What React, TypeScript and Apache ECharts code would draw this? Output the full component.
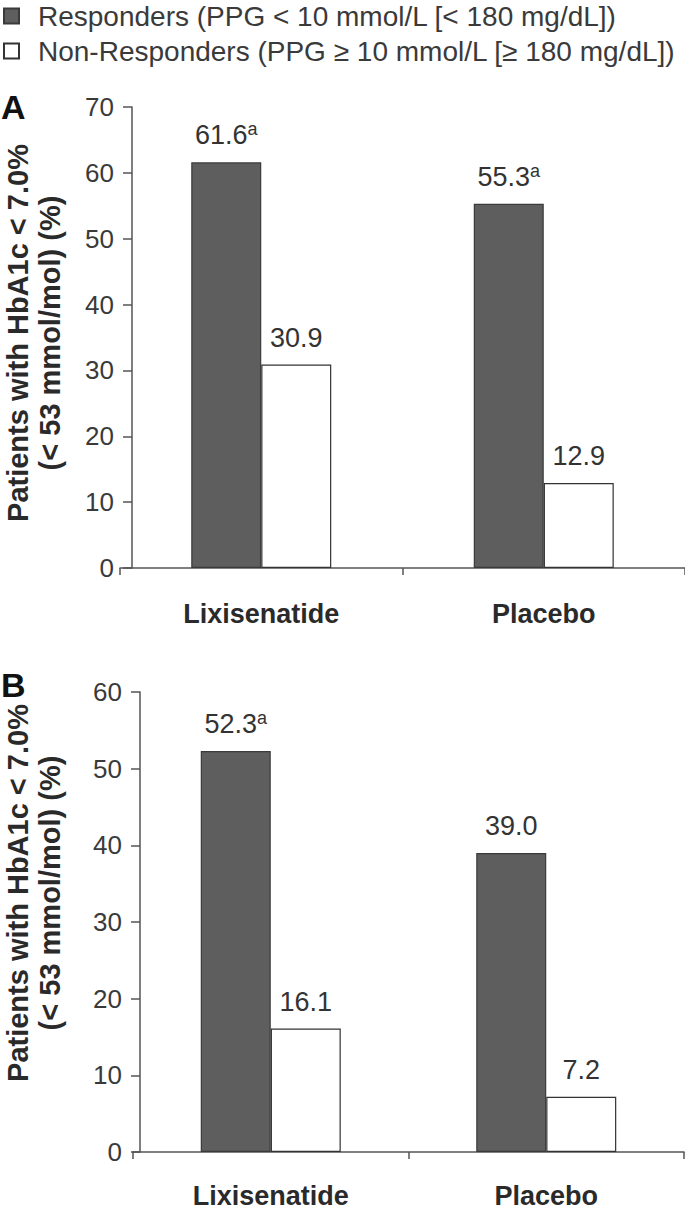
import React, { useEffect, useRef } from "react";
import * as echarts from "echarts";

const categories = ["Lixisenatide", "Placebo"];
const seriesNames = [
  "Responders (PPG < 10 mmol/L [< 180 mg/dL])",
  "Non-Responders (PPG ≥ 10 mmol/L [≥ 180 mg/dL])",
];
const respondersA = [61.6, 55.3];
const nonRespondersA = [30.9, 12.9];
const respondersSupA = ["a", "a"];
const respondersB = [52.3, 39.0];
const nonRespondersB = [16.1, 7.2];
const respondersSupB = ["a", ""];
const yMaxA = 70;
const yMaxB = 60;
const yInterval = 10;
const yNameLine1 = "Patients with HbA1c < 7.0%";
const yNameLine2 = "(< 53 mmol/mol) (%)";

const FONT = "'Liberation Sans', Arial, Helvetica, sans-serif";

export default function App() {
  const ref = useRef<HTMLDivElement>(null);
  useEffect(() => {
    if (!ref.current) return;
    const chart = echarts.init(ref.current, undefined, { renderer: "svg" });

    const darkStyle = { color: "#5e5e5e", borderColor: "#3a3a3a", borderWidth: 1.2 };
    const whiteStyle = { color: "#ffffff", borderColor: "#333333", borderWidth: 1.2 };

    const valueLabel = (sups: string[] | null) => ({
      show: true,
      position: "top",
      distance: 12,
      formatter: (p: any) => {
        const v = Number(p.value).toFixed(1);
        const s = sups ? sups[p.dataIndex] : "";
        return s ? `{v|${v}}{s|${s}}` : `{v|${v}}`;
      },
      rich: {
        v: { fontSize: 27, fontFamily: FONT, color: "#333", lineHeight: 30 },
        s: { fontSize: 18, fontFamily: FONT, color: "#333", lineHeight: 30, verticalAlign: "top" },
      },
    });

    const xAxisBase = (gridIndex: number, margin: number) => ({
      type: "category",
      gridIndex,
      data: categories,
      axisLine: { show: true, lineStyle: { color: "#555", width: 1.5 } },
      axisTick: { show: true, length: 7, lineStyle: { color: "#555", width: 1.5 } },
      axisLabel: { fontSize: 27, fontWeight: "bold", color: "#2a2a2a", fontFamily: FONT, margin },
    });
    const yAxisBase = (gridIndex: number, max: number, offset: number) => ({
      type: "value",
      gridIndex,
      min: 0,
      max,
      interval: yInterval,
      offset,
      splitLine: { show: false },
      axisLine: { show: true, lineStyle: { color: "#555", width: 1.5 } },
      axisTick: { show: true, length: 9, lineStyle: { color: "#555", width: 1.5 } },
      axisLabel: { fontSize: 26, color: "#3a3a3a", fontFamily: FONT, margin: 18 },
    });

    const barCommon = { barWidth: 70, barGap: "0%" };

    const yNameText = (x: number, y: number, text: string) => ({
      type: "text",
      x,
      y,
      rotation: Math.PI / 2,
      style: {
        text,
        fontSize: 29,
        fontWeight: "bold",
        fontFamily: FONT,
        fill: "#2a2a2a",
        textAlign: "center",
        textVerticalAlign: "middle",
      },
    });

    chart.setOption({
      animation: false,
      legend: {
        orient: "vertical",
        left: -2,
        top: -3,
        icon: "rect",
        itemWidth: 15,
        itemHeight: 15,
        itemGap: 7,
        data: seriesNames,
        textStyle: { fontSize: 28, color: "#3a3a3a", fontFamily: FONT, padding: [0, 0, 0, 14] },
      },
      grid: [
        { left: 120, top: 107, width: 569, height: 461 },
        { left: 133, top: 692, width: 551, height: 463 },
      ],
      xAxis: [xAxisBase(0, 32), xAxisBase(1, 30)],
      yAxis: [yAxisBase(0, yMaxA, -12), yAxisBase(1, yMaxB, -7)],
      series: [
        { type: "bar", name: seriesNames[0], xAxisIndex: 0, yAxisIndex: 0, data: respondersA, itemStyle: darkStyle, label: valueLabel(respondersSupA), ...barCommon },
        { type: "bar", name: seriesNames[1], xAxisIndex: 0, yAxisIndex: 0, data: nonRespondersA, itemStyle: whiteStyle, label: valueLabel(null), ...barCommon },
        { type: "bar", name: seriesNames[0], xAxisIndex: 1, yAxisIndex: 1, data: respondersB, itemStyle: darkStyle, label: valueLabel(respondersSupB), ...barCommon },
        { type: "bar", name: seriesNames[1], xAxisIndex: 1, yAxisIndex: 1, data: nonRespondersB, itemStyle: whiteStyle, label: valueLabel(null), ...barCommon },
      ],
      graphic: [
        { type: "text", left: 1, top: 90, style: { text: "A", fontSize: 34, fontWeight: "bold", fontFamily: FONT, fill: "#111" } },
        { type: "text", left: 1, top: 668, style: { text: "B", fontSize: 34, fontWeight: "bold", fontFamily: FONT, fill: "#111" } },
        yNameText(18, 333, yNameLine1),
        yNameText(50, 333, yNameLine2),
        yNameText(18, 893, yNameLine1),
        yNameText(50, 893, yNameLine2),
      ],
    });
    return () => chart.dispose();
  }, []);
  return (
    <div
      ref={ref}
      style={{ position: "absolute", left: 0, top: 0, width: 685, height: 1209, background: "#fff" }}
    />
  );
}
